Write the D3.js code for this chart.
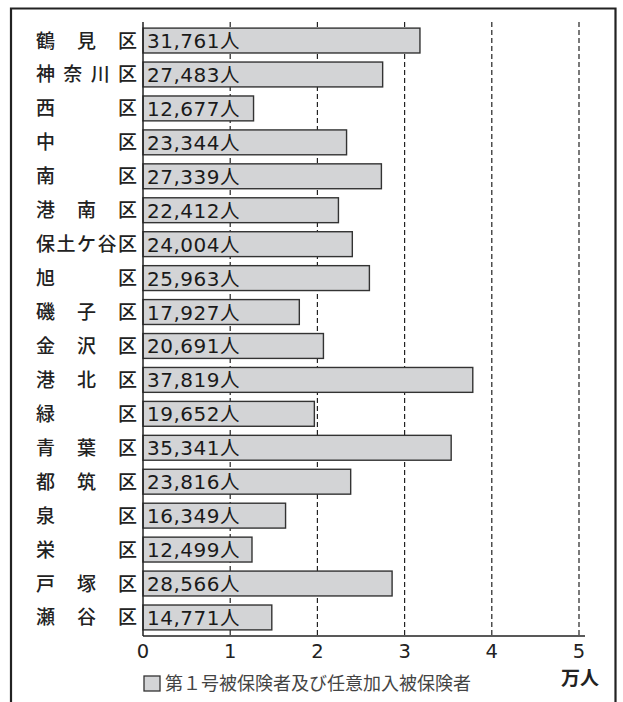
<!DOCTYPE html>
<html><head><meta charset="utf-8">
<script src="https://cdn.jsdelivr.net/npm/d3@7"></script>
<style>body{margin:0;background:#fff}svg{display:block}</style>
</head><body>
<svg id="c" width="623" height="702"></svg>
<script>
const wards = ["鶴見区","神奈川区","西区","中区","南区","港南区","保土ケ谷区","旭区","磯子区","金沢区","港北区","緑区","青葉区","都筑区","泉区","栄区","戸塚区","瀬谷区"];
const values = [31761,27483,12677,23344,27339,22412,24004,25963,17927,20691,37819,19652,35341,23816,16349,12499,28566,14771];
const xTicks = [0,1,2,3,4,5];
const unitLabel = "万人";
const legendLabel = "第１号被保険者及び任意加入被保険者";

const svg = d3.select("#c");
const x = d3.scaleLinear().domain([0,5]).range([143,579]);
const y = d3.scaleBand().domain(wards).range([22,636]).paddingInner(0.267).paddingOuter(0.18);

// frame
svg.append("path").attr("d","M11,710 L11,8.5 L615.5,8.5 L615.5,710")
  .attr("fill","none").attr("stroke","#222").attr("stroke-width",2.2);

// gridlines
svg.append("g").selectAll("line").data(xTicks.slice(1)).join("line")
  .attr("x1",d=>x(d)).attr("x2",d=>x(d)).attr("y1",22).attr("y2",636)
  .attr("stroke","#222").attr("stroke-width",1.2).attr("stroke-dasharray","5,3");

// bars
svg.append("g").selectAll("rect").data(values).join("rect")
  .attr("x",x(0)).attr("y",(d,i)=>y(wards[i]))
  .attr("width",d=>x(d/10000)-x(0)).attr("height",y.bandwidth())
  .attr("fill","#d3d4d6").attr("stroke","#333").attr("stroke-width",1.4);

// value labels
const vt = svg.append("g").selectAll("text").data(values).join("text")
  .attr("x",x(0)+4).attr("y",(d,i)=>y(wards[i])+y.bandwidth()/2+7.5)
  .attr("font-family","DejaVu Sans").attr("font-size",20)
  .attr("letter-spacing",0.5).attr("fill","#1a1a1a");
vt.append("tspan").text(d=>d3.format(",")(d));
vt.append("tspan").attr("font-family","'Noto Sans CJK JP'").attr("font-size",19.5).text("人");

// axes lines
svg.append("line").attr("x1",x(0)).attr("x2",x(0)).attr("y1",22).attr("y2",636)
  .attr("stroke","#222").attr("stroke-width",1.5);
svg.append("line").attr("x1",x(0)).attr("x2",585).attr("y1",636).attr("y2",636)
  .attr("stroke","#222").attr("stroke-width",1.6);

// x tick labels
svg.append("g").selectAll("text").data(xTicks).join("text")
  .attr("x",d=>x(d)).attr("y",658).attr("text-anchor","middle")
  .attr("font-family","DejaVu Sans").attr("font-size",19.5).attr("fill","#222")
  .text(d=>d);
svg.append("text").attr("x",580).attr("y",685).attr("text-anchor","middle")
  .attr("font-family","'Noto Sans CJK JP'").attr("font-weight",700).attr("font-size",19)
  .attr("fill","#222").text(unitLabel);

// ward labels, justified
const lg = svg.append("g");
wards.forEach((w,i)=>{
  const chars = Array.from(w);
  const n = chars.length;
  const cy = y(w)+y.bandwidth()/2;
  chars.forEach((ch,j)=>{
    const xl = 36 + j*(118-36)/(n-1);
    lg.append("text").attr("x",xl).attr("y",cy+7)
      .attr("font-family","'Noto Sans CJK JP'").attr("font-weight",500).attr("font-size",19)
      .attr("fill","#222").text(ch);
  });
});

// legend
svg.append("rect").attr("x",144).attr("y",676).attr("width",16).attr("height",15)
  .attr("fill","#d3d4d6").attr("stroke","#333").attr("stroke-width",1.3);
svg.append("text").attr("x",165).attr("y",690)
  .attr("font-family","'Noto Sans CJK JP'").attr("font-size",18).attr("fill","#444")
  .text(legendLabel);
</script>
</body></html>
